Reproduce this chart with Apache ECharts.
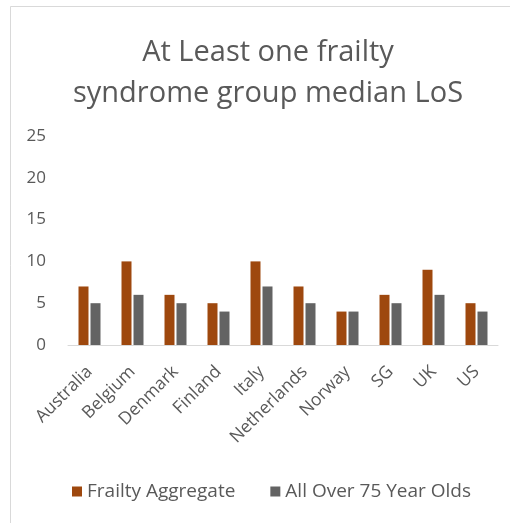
<!DOCTYPE html>
<html>
<head>
<meta charset="utf-8">
<script src="https://cdn.jsdelivr.net/npm/echarts@6/dist/echarts.min.js"></script>
<style>
  html, body { margin: 0; padding: 0; background: #fff; }
  #main { width: 510px; height: 523px; }
</style>
</head>
<body>
<div id="main"></div>
<script>
var countries = ['Australia', 'Belgium', 'Denmark', 'Finland', 'Italy', 'Netherlands', 'Norway', 'SG', 'UK', 'US'];
var frailtyAggregate = [7, 10, 6, 5, 10, 7, 4, 6, 9, 5];
var allOver75 = [5, 6, 5, 4, 7, 5, 4, 5, 6, 4];
var seriesNames = ['Frailty Aggregate', 'All Over 75 Year Olds'];

var textColor = '#595959';
var font = 'Open Sans';

var myChart = echarts.init(document.getElementById('main'));

var option = {
    animation: false,
    backgroundColor: '#fff',
    graphic: [{
        type: 'rect',
        shape: { x: 10.5, y: 6.5, width: 520, height: 540 },
        style: { fill: 'none', stroke: '#d9d9d9', lineWidth: 1 },
        silent: true
    }],
    title: {
        text: 'At Least one frailty\nsyndrome group median LoS',
        left: 263,
        top: 27,
        textAlign: 'center',
        textStyle: {
            color: textColor,
            fontFamily: font,
            fontWeight: 'normal',
            fontSize: 29,
            lineHeight: 41
        }
    },
    legend: {
        data: seriesNames,
        top: 477,
        left: 67,
        itemWidth: 10,
        itemHeight: 10,
        itemGap: 35,
        icon: 'rect',
        textStyle: { color: textColor, fontFamily: font, fontSize: 19 }
    },
    grid: { left: 68, right: 12, top: 136, bottom: 178 },
    xAxis: {
        type: 'category',
        data: countries,
        axisLine: { lineStyle: { color: '#d9d9d9', width: 1 } },
        axisTick: { show: false },
        axisLabel: {
            rotate: 45,
            interval: 0,
            color: textColor,
            fontFamily: font,
            fontSize: 17.5,
            margin: 24
        }
    },
    yAxis: {
        type: 'value',
        min: 0,
        max: 25,
        interval: 5,
        splitLine: { show: false },
        axisLine: { show: false },
        axisTick: { show: false },
        axisLabel: { color: textColor, fontFamily: font, fontSize: 17, margin: 22 }
    },
    series: [{
        name: seriesNames[0],
        type: 'bar',
        data: frailtyAggregate,
        barWidth: 10,
        barGap: '20%',
        itemStyle: { color: '#9E480E' }
    }, {
        name: seriesNames[1],
        type: 'bar',
        data: allOver75,
        barWidth: 10,
        itemStyle: { color: '#636363' }
    }]
};

myChart.setOption(option);
</script>
</body>
</html>
